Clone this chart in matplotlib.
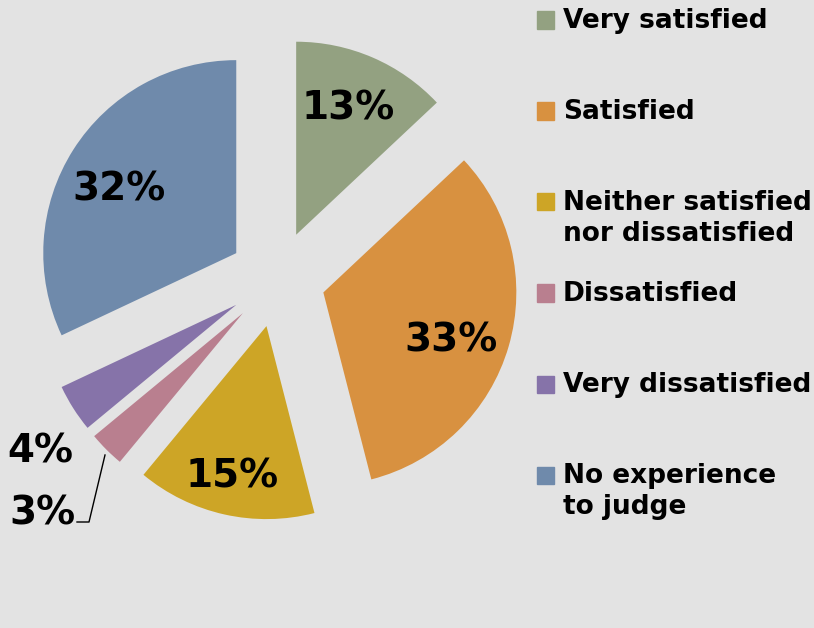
import matplotlib.pyplot as plt
from matplotlib.patches import Rectangle

categories = ['Very satisfied', 'Satisfied', 'Neither satisfied\nnor dissatisfied',
              'Dissatisfied', 'Very dissatisfied', 'No experience\nto judge']
shares = [13, 33, 15, 3, 4, 32]
colors = ['#93a181', '#d89140', '#cda526', '#b97f8f', '#8673a9', '#6f8aab']

bg = '#e3e3e3'
W, H = 814, 628
fig = plt.figure(figsize=(W / 100, H / 100), dpi=100, facecolor=bg)
ax = fig.add_axes([0, 0, 1, 1])
ax.set_facecolor(bg)

font = 'DejaVu Sans'

wedges, texts, pcts = ax.pie(
    shares, colors=colors, startangle=90, counterclock=False,
    explode=[0.25] * len(shares), radius=1.0,
    autopct=lambda p: f'{p:.0f}%', pctdistance=0.7,
    textprops=dict(fontsize=28, fontweight='bold', family=font, color='black'),
    wedgeprops=dict(linewidth=0),
)

# 1 data unit = 193 px, pie centre at (277, 279) from top-left
r_px, cx, cy = 193, 277, 279
ax.set_xlim(-cx / r_px, (W - cx) / r_px)
ax.set_ylim((cy - H) / r_px, cy / r_px)
ax.set_aspect('equal')
ax.axis('off')


def px(x, y):
    return (x - cx) / r_px, (cy - y) / r_px


# label placement (pixel coords), small slices pulled out to the left
label_xy = [(348, 108), (451, 340), (232, 476), (42, 513), (40, 451), (119, 189)]
for t, (x, y) in zip(pcts, label_xy):
    t.set_position(px(x, y))

lead = [px(77, 522), px(89, 522), px(105, 455)]
ax.plot([p[0] for p in lead], [p[1] for p in lead], color='black', lw=1)

# legend drawn by hand so the swatch lines up with the first text line
for i, (lab, c) in enumerate(zip(categories, colors)):
    y = 20 + 91 * i
    fig.patches.append(Rectangle((537 / W, 1 - (y + 8.5) / H), 17 / W, 17 / H,
                                 transform=fig.transFigure, color=c))
    fig.text(563 / W, 1 - (y - 12) / H, lab, ha='left', va='top',
             fontsize=19, fontweight='bold', family=font, linespacing=1.25)

fig.savefig('out.png', dpi=100, facecolor=bg)
